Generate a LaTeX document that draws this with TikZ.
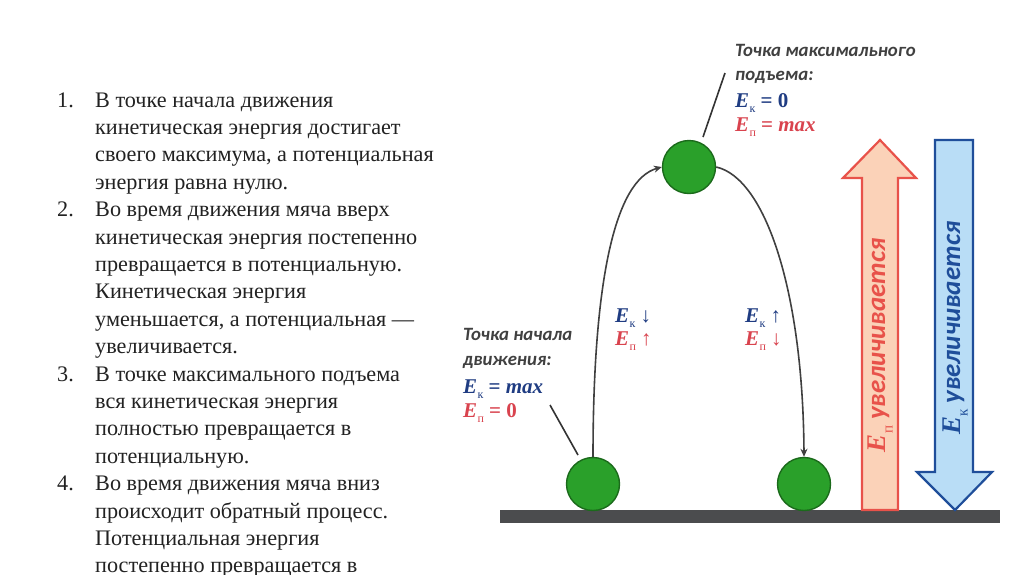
\documentclass[tikz,border=0pt]{standalone}
\usepackage{fontspec}
\setmainfont{Liberation Serif}
\newfontfamily\labfont{Carlito}
\usetikzlibrary{arrows.meta}
\definecolor{txtc}{HTML}{222222}
\definecolor{labc}{HTML}{404040}
\definecolor{navy}{HTML}{1F3C82}
\definecolor{redc}{HTML}{D9434E}
\definecolor{ballg}{HTML}{2AA02A}
\definecolor{ballr}{HTML}{1B6A1B}
\definecolor{peach}{HTML}{FBD2B8}
\definecolor{peachr}{HTML}{E8524A}
\definecolor{lblue}{HTML}{B9DDF6}
\definecolor{dblue}{HTML}{1F4E9A}
\definecolor{ground}{HTML}{4B4C4E}
\newcommand{\Esub}[2][12]{{\rmfamily\bfseries\itshape E}\kern0.3pt\raisebox{-0.28em}{\rmfamily\mdseries\upshape\fontsize{#1}{#1}\selectfont #2}}
\begin{document}
\begin{tikzpicture}[x=1pt,y=-1pt,
  line/.style={anchor=base west,inner sep=0pt,font=\fontsize{22.2}{22.2}\selectfont,text=txtc},
  lab/.style={anchor=base west,inner sep=0pt,font=\labfont\bfseries\itshape\fontsize{18.8}{18.8}\selectfont,text=labc},
  eq/.style={anchor=base west,inner sep=0pt,font=\fontsize{21}{21}\selectfont},
  ball/.style={circle,minimum size=53pt,inner sep=0pt,fill=ballg,draw=ballr,line width=1.4pt},
  traj/.style={draw=black!75,line width=1.6pt,-{Stealth[length=8pt,width=7pt]}},
  pointer/.style={draw=black!80,line width=1.6pt},
  arrtext/.style={inner sep=0pt,rotate=90,font=\labfont\bfseries\itshape\fontsize{27}{27}\selectfont}]
\useasboundingbox (0,0) rectangle (1024,574);
\fill[white] (0,0) rectangle (1024,574);
\begin{scope}
\clip (0,0) rectangle (1024,574);
% numbered text
\node[line] (n1) at (57,107) {1.};
\node[line] (l1) at (95,107) {В точке начала движения};
\node[line] (l2) at (95,134.4) {кинетическая энергия достигает};
\node[line] (l3) at (95,161.8) {своего максимума, а потенциальная};
\node[line] (l4) at (95,189.2) {энергия равна нулю.};
\node[line] (n2) at (57,216.6) {2.};
\node[line] (l5) at (95,216.6) {Во время движения мяча вверх};
\node[line] (l6) at (95,244) {кинетическая энергия постепенно};
\node[line] (l7) at (95,271.4) {превращается в потенциальную.};
\node[line] (l8) at (95,298.8) {Кинетическая энергия};
\node[line] (l9) at (95,326.2) {уменьшается, а потенциальная —};
\node[line] (l10) at (95,353.6) {увеличивается.};
\node[line] (n3) at (57,381) {3.};
\node[line] (l11) at (95,381) {В точке максимального подъема};
\node[line] (l12) at (95,408.4) {вся кинетическая энергия};
\node[line] (l13) at (95,435.8) {полностью превращается в};
\node[line] (l14) at (95,463.2) {потенциальную.};
\node[line] (n4) at (57,490.6) {4.};
\node[line] (l15) at (95,490.6) {Во время движения мяча вниз};
\node[line] (l16) at (95,518) {происходит обратный процесс.};
\node[line] (l17) at (95,545.4) {Потенциальная энергия};
\node[line] (l18) at (95,572.8) {постепенно превращается в};
\end{scope}
% ground
\fill[ground] (500,510) rectangle (1000,523);
% balls
\node[ball] (b1) at (593,484) {};
\node[ball] (b2) at (689,167) {};
\node[ball] (b3) at (804,484) {};
% trajectory
\draw[traj] (b1.north) .. controls (593,280) and (615,180) .. (b2.west);
\draw[traj] (b2.east) .. controls (765,178) and (803,290) .. (b3.north);
% top label
\node[lab] (t1) at (735,56) {Точка максимального};
\node[lab] (t2) at (735,80) {подъема:};
\node[eq,text=navy] (t3) at (735,107) {\Esub{к} \textbf{= 0}};
\node[eq,text=redc] (t4) at (735,131) {\Esub{п} \textbf{= \textit{max}}};
\coordinate (p1a) at (725,73);
\coordinate (p1b) at (703,137);
\draw[pointer] (p1a) -- (p1b);
% start label
\node[lab] (s1) at (463,340) {Точка начала};
\node[lab] (s2) at (463,365) {движения:};
\node[eq,text=navy] (s3) at (463,393) {\Esub{к} \textbf{= \textit{max}}};
\node[eq,text=redc] (s4) at (463,417) {\Esub{п} \textbf{= 0}};
\coordinate (p2a) at (550,405);
\coordinate (p2b) at (578,455);
\draw[pointer] (p2a) -- (p2b);
% middle labels
\node[eq,text=navy] (u1) at (615,322) {\Esub{к} ↓};
\node[eq,text=redc] (u2) at (615,345) {\Esub{п} ↑};
\node[eq,text=navy] (d1) at (745,322) {\Esub{к} ↑};
\node[eq,text=redc] (d2) at (745,345) {\Esub{п} ↓};
% big arrows
\draw[fill=peach,draw=peachr,line width=2.2pt,line join=miter]
  (862,510) -- (862,178) -- (843,178) -- (880,140) -- (916,178) -- (898,178) -- (898,510) -- cycle;
\draw[fill=lblue,draw=dblue,line width=2.2pt,line join=miter]
  (935,140) -- (973,140) -- (973,472) -- (992,472) -- (955,510) -- (917,472) -- (935,472) -- cycle;
\node[arrtext,text=peachr] (ap) at (880,345) {\Esub[15]{п} увеличивается};
\node[arrtext,text=dblue] (ak) at (955,328) {\Esub[15]{к} увеличивается};
\end{tikzpicture}
\end{document}
